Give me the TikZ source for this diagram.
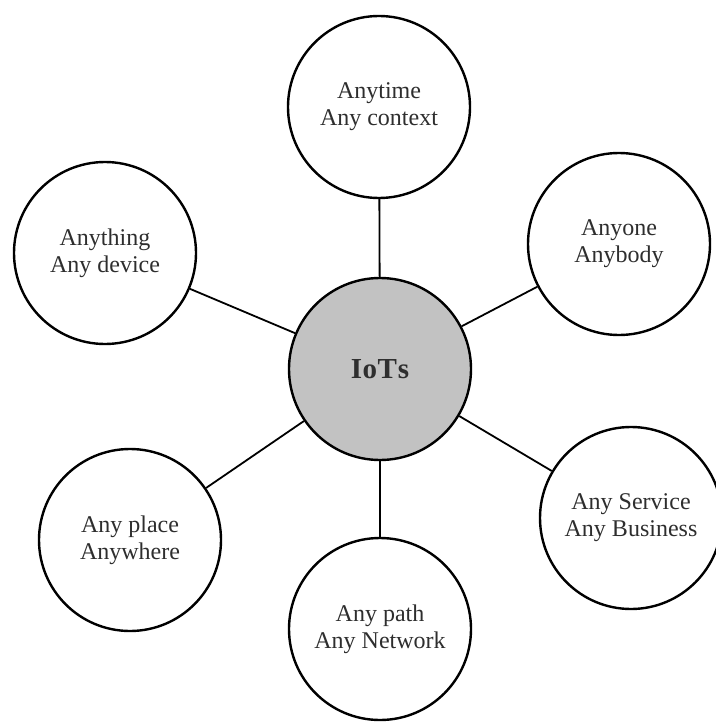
\documentclass[tikz,border=0pt]{standalone}
\usepackage{fontspec}
\setmainfont{Liberation Serif}
\definecolor{inktext}{HTML}{2E2E2E}
\definecolor{hubfill}{HTML}{C2C2C2}
\begin{document}
\begin{tikzpicture}[x=1pt,y=-1pt,
  bubble/.style={circle, draw=black, line width=2.4pt, fill=white,
    minimum size=182pt, inner sep=0pt, align=center, text=inktext,
    font=\fontsize{24}{27}\selectfont},
  hub/.style={bubble, fill=hubfill,
    font=\fontsize{29}{32}\selectfont\bfseries},
  spoke/.style={draw=black, line width=1.8pt}]
\useasboundingbox (0,0) rectangle (715,722);

% central hub
\node[hub] (iot) at (380,369) {I\kern0.5pt o\kern0.5pt T\kern1pt s};

% surrounding bubbles
\node[bubble] (time)    at (379,107) {Anytime\\Any context};
\node[bubble] (one)     at (619,244) {Anyone\\Anybody};
\node[bubble] (thing)   at (105,253) {Anything\\Any device};
\node[bubble] (service) at (631,518) {Any Service\\Any Business};
\node[bubble] (place)   at (130,540) {Any place\\Anywhere};
\node[bubble] (path)    at (380,629) {Any path\\Any Network};

% spokes from the hub
\foreach \n in {time,one,thing,service,place,path}
  \draw[spoke] (iot) -- (\n);
\end{tikzpicture}
\end{document}
